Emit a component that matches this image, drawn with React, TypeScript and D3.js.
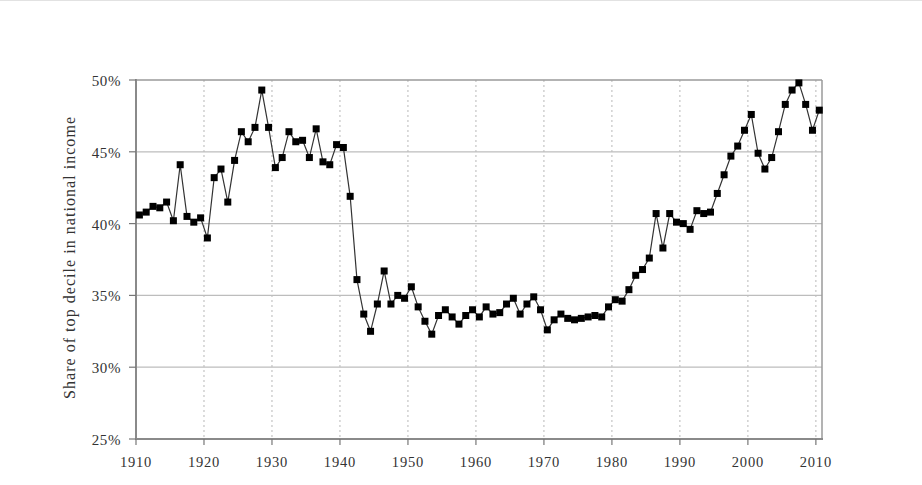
import React from "react";
import * as d3 from "d3";

// Share of top decile in national income, United States 1910-2010
const startYear = 1910;
const shareValues: number[] = [
  40.6, 40.8, 41.2, 41.1, 41.5, 40.2, 44.1, 40.5, 40.1, 40.4, // 1910s
  39.0, 43.2, 43.8, 41.5, 44.4, 46.4, 45.7, 46.7, 49.3, 46.7, // 1920s
  43.9, 44.6, 46.4, 45.7, 45.8, 44.6, 46.6, 44.3, 44.1, 45.5, // 1930s
  45.3, 41.9, 36.1, 33.7, 32.5, 34.4, 36.7, 34.4, 35.0, 34.8, // 1940s
  35.6, 34.2, 33.2, 32.3, 33.6, 34.0, 33.5, 33.0, 33.6, 34.0, // 1950s
  33.5, 34.2, 33.7, 33.8, 34.4, 34.8, 33.7, 34.4, 34.9, 34.0, // 1960s
  32.6, 33.3, 33.7, 33.4, 33.3, 33.4, 33.5, 33.6, 33.5, 34.2, // 1970s
  34.7, 34.6, 35.4, 36.4, 36.8, 37.6, 40.7, 38.3, 40.7, 40.1, // 1980s
  40.0, 39.6, 40.9, 40.7, 40.8, 42.1, 43.4, 44.7, 45.4, 46.5, // 1990s
  47.6, 44.9, 43.8, 44.6, 46.4, 48.3, 49.3, 49.8, 48.3, 46.5, // 2000s
  47.9,
];
const years = shareValues.map((_, i) => startYear + i);
const xTicks = [1910, 1920, 1930, 1940, 1950, 1960, 1970, 1980, 1990, 2000, 2010];
const yTicks = [25, 30, 35, 40, 45, 50];
const yTitle = "Share of top decile in national income";

const W = 922;
const H = 485;
const left = 136;
const right = 822;
const top = 80;
const bottom = 439;

const font = "'Liberation Serif', 'DejaVu Serif', serif";

export default function App() {
  const x = d3.scaleLinear().domain([1910, 2010.9]).range([left, right]);
  const y = d3.scaleLinear().domain([25, 50]).range([bottom, top]);

  const pts = years.map((yr, i) => ({ yr, v: shareValues[i] }));
  const line = d3
    .line<{ yr: number; v: number }>()
    .x((d) => x(d.yr + 0.5))
    .y((d) => y(d.v));

  const sq = 7;

  return (
    <svg
      width={W}
      height={H}
      style={{ position: "absolute", left: 0, top: 0, background: "#fff" }}
    >
      <line x1={0} x2={W} y1={0.5} y2={0.5} stroke="#e2e2e2" />

      {/* vertical dotted grid */}
      {xTicks.slice(1).map((t) => (
        <line
          key={"vx" + t}
          x1={x(t)}
          x2={x(t)}
          y1={top}
          y2={bottom}
          stroke="#b8b8b8"
          strokeDasharray="2,3"
        />
      ))}

      {/* horizontal grid */}
      {yTicks.slice(1, -1).map((t) => (
        <line
          key={"hy" + t}
          x1={left}
          x2={right}
          y1={y(t)}
          y2={y(t)}
          stroke="#bdbdbd"
          strokeWidth={1.2}
        />
      ))}

      {/* frame */}
      <line x1={left} x2={right} y1={top} y2={top} stroke="#9a9a9a" strokeWidth={1.5} />
      <line x1={right} x2={right} y1={top} y2={bottom} stroke="#9a9a9a" strokeWidth={1.5} />
      <line x1={left} x2={left} y1={top - 1} y2={bottom + 1} stroke="#8a8a8a" strokeWidth={2} />
      <line x1={left - 1} x2={right + 1} y1={bottom} y2={bottom} stroke="#8a8a8a" strokeWidth={2} />

      {/* y ticks + labels */}
      {yTicks.map((t) => (
        <g key={"yt" + t}>
          <line x1={left - 7} x2={left} y1={y(t)} y2={y(t)} stroke="#777" strokeWidth={1.2} />
          <text
            x={left - 15}
            y={y(t)}
            dy="0.4em"
            textAnchor="end"
            fontFamily={font}
            fontSize={15}
            fill="#333"
            letterSpacing={0.6}
          >
            {t}%
          </text>
        </g>
      ))}

      {/* x ticks + labels */}
      {xTicks.map((t) => (
        <g key={"xt" + t}>
          <line x1={x(t)} x2={x(t)} y1={bottom} y2={bottom + 6} stroke="#777" strokeWidth={1.2} />
          <text
            x={x(t)}
            y={467}
            textAnchor="middle"
            fontFamily={font}
            fontSize={14.5}
            fill="#333"
            letterSpacing={0.8}
          >
            {t}
          </text>
        </g>
      ))}

      {/* y title */}
      <text
        transform="translate(75, 258) rotate(-90)"
        textAnchor="middle"
        fontFamily={font}
        fontSize={16}
        fill="#333"
        textLength={282}
        lengthAdjust="spacing"
      >
        {yTitle}
      </text>

      {/* series */}
      <path d={line(pts) ?? ""} fill="none" stroke="#333" strokeWidth={1.2} />
      {pts.map((d) => (
        <rect
          key={"p" + d.yr}
          x={x(d.yr + 0.5) - sq / 2}
          y={y(d.v) - sq / 2}
          width={sq}
          height={sq}
          fill="#000"
        />
      ))}
    </svg>
  );
}
